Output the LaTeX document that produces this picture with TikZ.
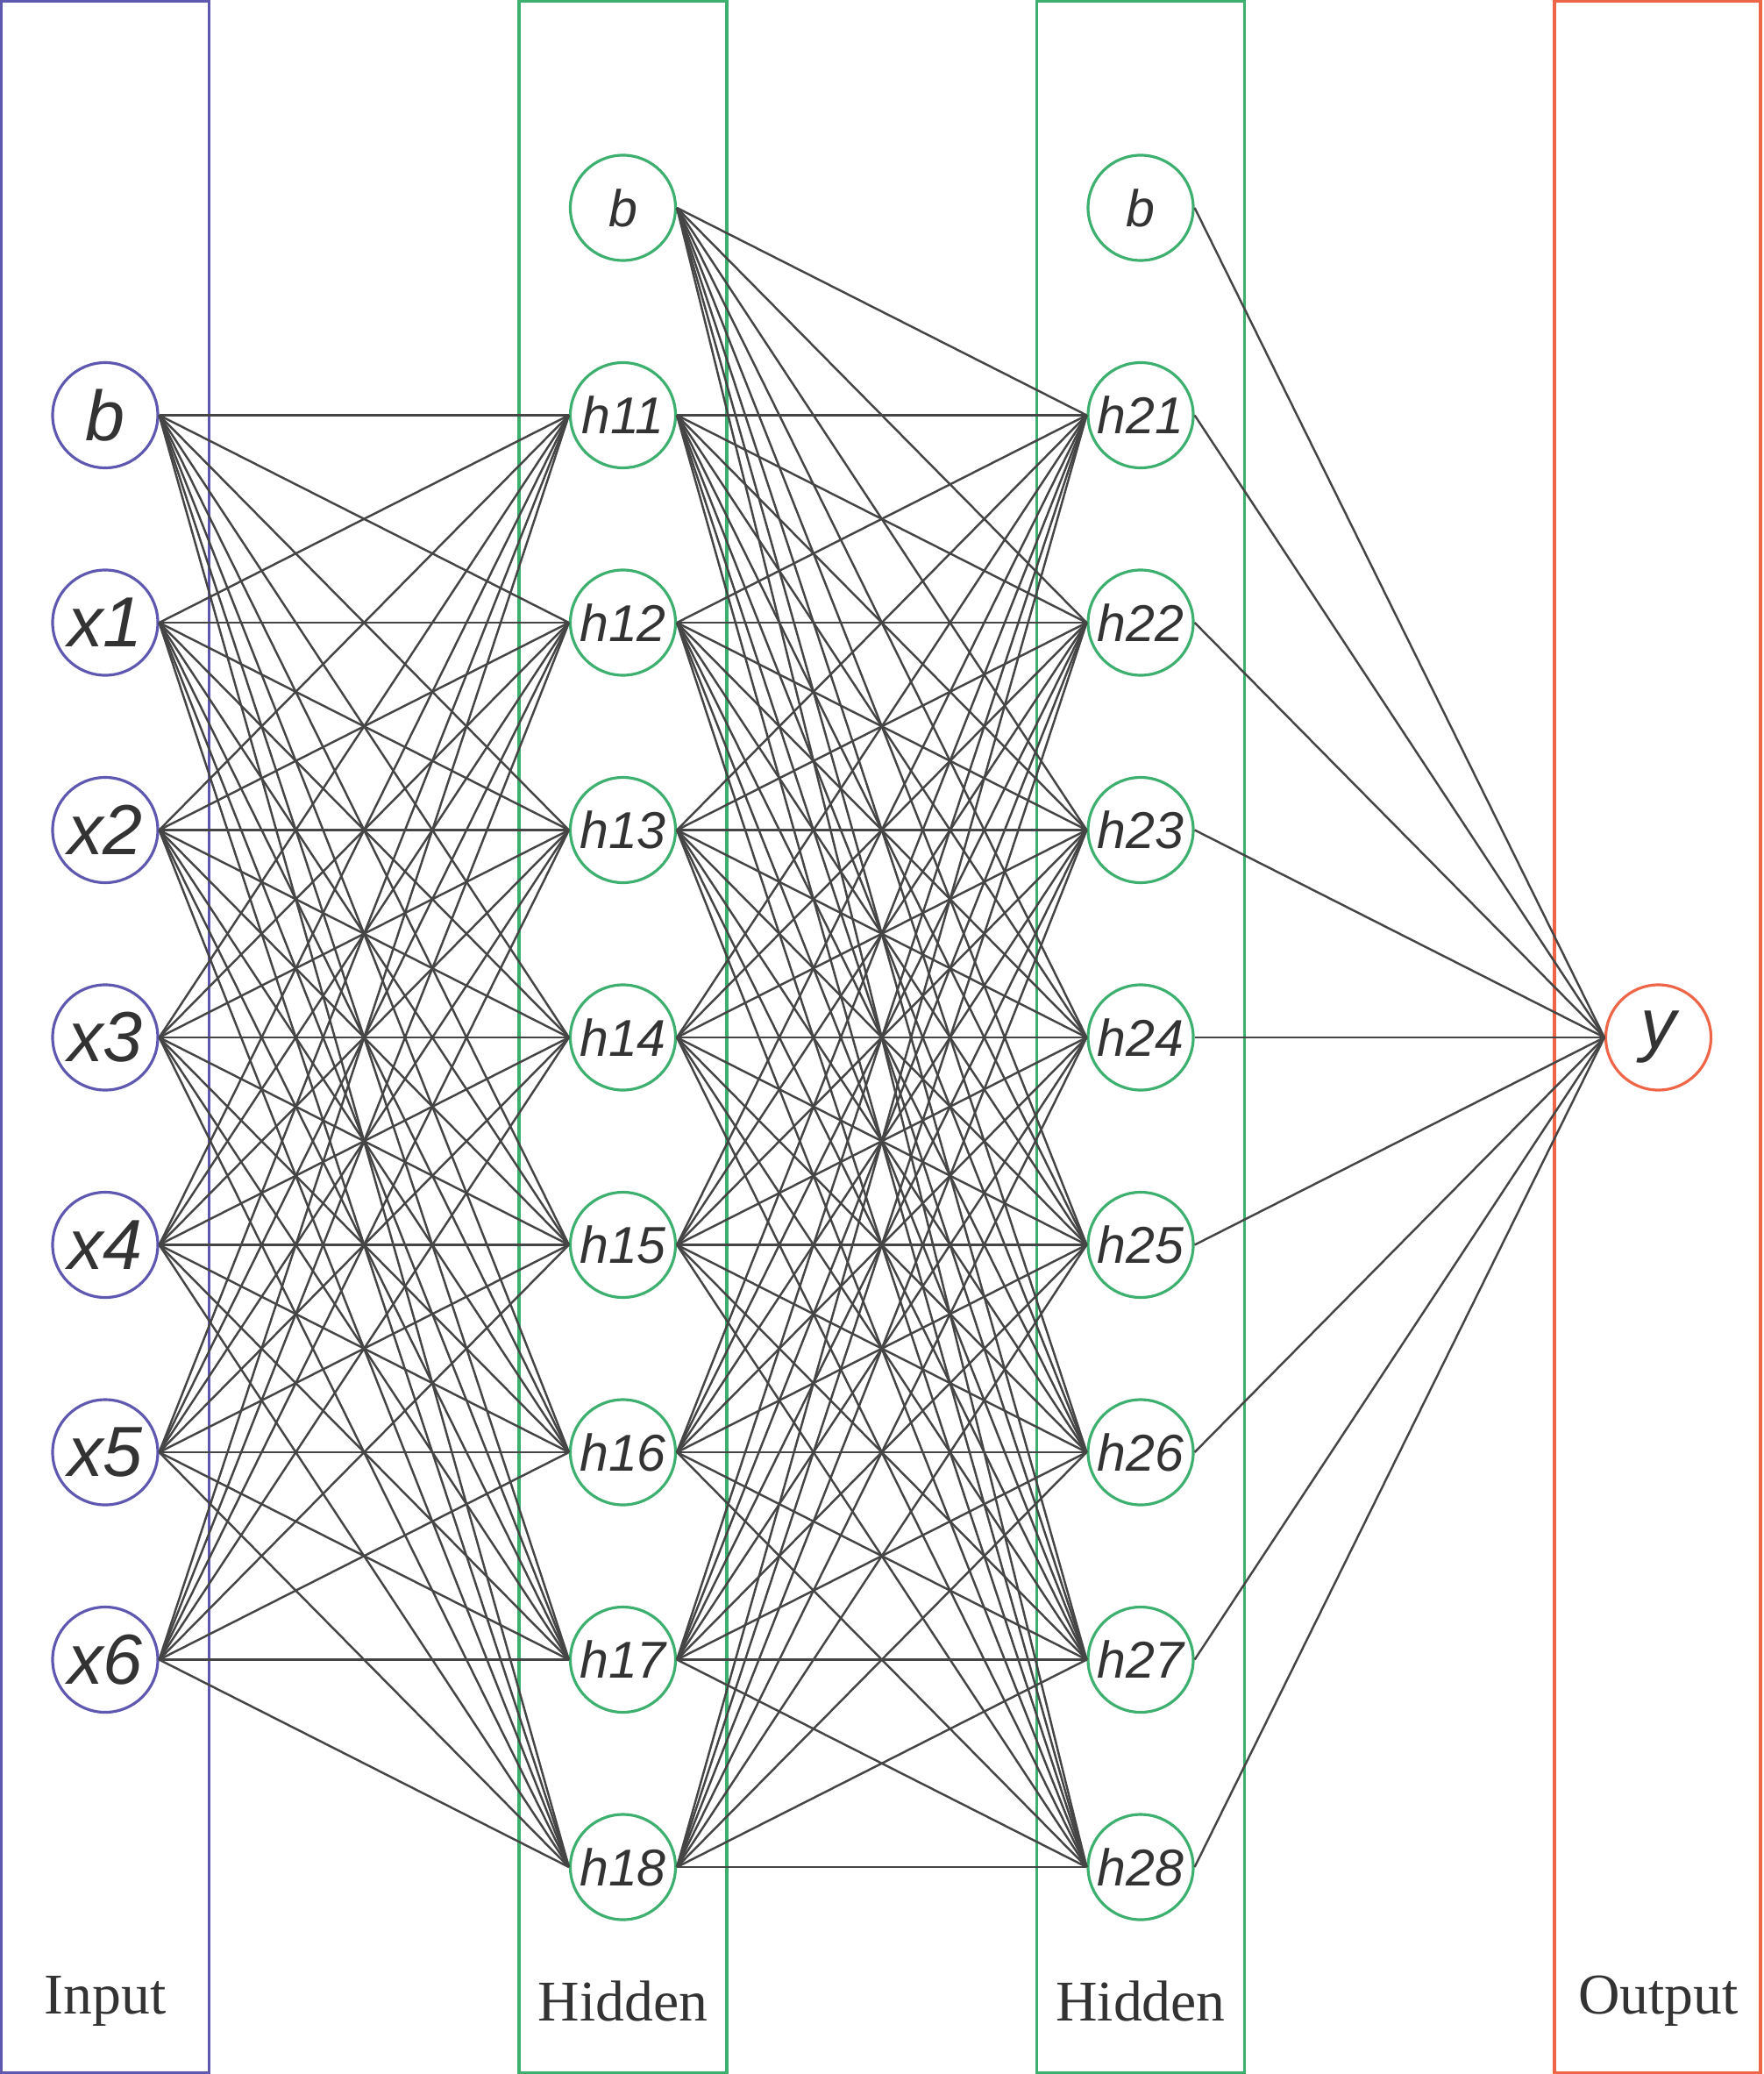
\documentclass[tikz,border=0pt]{standalone}
\usepackage{fontspec}
\setmainfont{Liberation Serif}
\newfontfamily\neuronfont{Liberation Sans}
\usepackage{xcolor}
\usepackage{tikz}
\usetikzlibrary{
    positioning % posicionamento relativo de nós
}

\definecolor{inblue}{HTML}{5E58B0}
\definecolor{hidgreen}{HTML}{3DAF6E}
\definecolor{outred}{HTML}{EE6647}
\definecolor{wirecol}{HTML}{454545}
\definecolor{ink}{HTML}{333333}

\tikzset{
    neuron/.style={circle, draw, line width=0.9pt, minimum size=1.2cm,
        inner sep=0pt, fill=white, text=ink},
    innode/.style={neuron, draw=inblue,
        font=\neuronfont\itshape\fontsize{23}{23}\selectfont},
    hidnode/.style={neuron, draw=hidgreen,
        font=\neuronfont\itshape\fontsize{16.8}{16.8}\selectfont},
    outnode/.style={neuron, draw=outred,
        font=\neuronfont\itshape\fontsize{23}{23}\selectfont},
    layerbox/.style={line width=1pt},
    layerlabel/.style={text=ink, font=\fontsize{18.7}{18.7}\selectfont},
    wire/.style={draw=wirecol, line width=0.7pt}
}

\begin{document}
\begin{tikzpicture}
      % simple knobs
      \def\Row{2.365}   % row spacing
      \def\Top{-2.37}   % y of the bias row
      \def\Hw{1.185}    % half width of a layer box
      \def\Bot{-23.64}  % bottom of the layer boxes
      \def\xIn{1.2}     % column x positions
      \def\xHa{7.105}
      \def\xHb{13.01}
      \def\xOut{18.915}

      \useasboundingbox (0,0) rectangle (20.11,-23.65);

      % ===================== LAYER BOXES =====================
      \draw[layerbox, inblue]   (\xIn-\Hw,-0.01)  rectangle (\xIn+\Hw,\Bot);
      \draw[layerbox, hidgreen] (\xHa-\Hw,-0.01)  rectangle (\xHa+\Hw,\Bot);
      \draw[layerbox, hidgreen] (\xHb-\Hw,-0.01)  rectangle (\xHb+\Hw,\Bot);
      \draw[layerbox, outred]   (\xOut-\Hw,-0.01) rectangle (\xOut-\Hw+2.35,\Bot);

      % ===================== NEURONS =====================
      % input layer: bias on top, then x1..x6
      \node[innode] (x0) at (\xIn,{\Top-\Row}) {b};
      \foreach \i in {1,...,6}
        \node[innode] (x\i) at (\xIn,{\Top-(\i+1)*\Row}) {x\i};

      % first hidden layer
      \node[hidnode] (h10) at (\xHa,\Top) {b};
      \foreach \i in {1,...,8}
        \node[hidnode] (h1\i) at (\xHa,{\Top-\i*\Row}) {h1\i};

      % second hidden layer
      \node[hidnode] (h20) at (\xHb,\Top) {b};
      \foreach \i in {1,...,8}
        \node[hidnode] (h2\i) at (\xHb,{\Top-\i*\Row}) {h2\i};

      % output
      \node[outnode] (y) at (\xOut,{\Top-4*\Row}) {y};

      % ===================== CONNECTIONS =====================
      \foreach \i in {0,...,6}
        \foreach \j in {1,...,8}
          \draw[wire] (x\i.east) -- (h1\j.west);
      \foreach \i in {0,...,8}
        \foreach \j in {1,...,8}
          \draw[wire] (h1\i.east) -- (h2\j.west);
      \foreach \i in {0,...,8}
        \draw[wire] (h2\i.east) -- (y.west);

      % ===================== LABELS =====================
      \node[layerlabel] (inlabel)   at (\xIn,-22.82)  {Input};
      \node[layerlabel] (hidlabela) at (\xHa,-22.82)  {Hidden};
      \node[layerlabel] (hidlabelb) at (\xHb,-22.82)  {Hidden};
      \node[layerlabel] (outlabel)  at (\xOut,-22.82) {Output};
    \end{tikzpicture}
\end{document}
